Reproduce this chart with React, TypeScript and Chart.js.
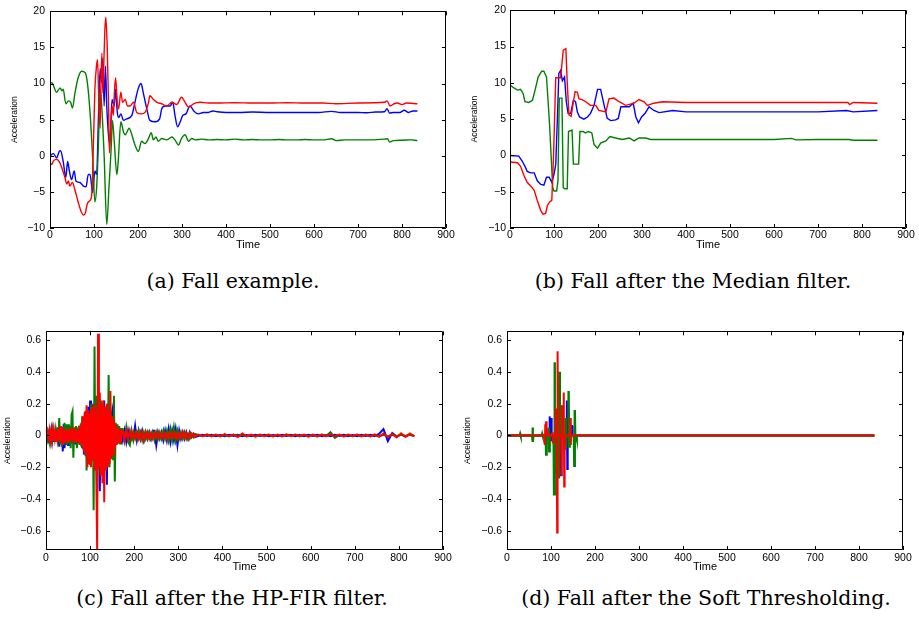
import React, { useEffect, useRef } from "react";
import { Chart, registerables } from "chart.js";
Chart.register(...registerables);

// ---------- tick labels ----------
const xTicks = [0, 100, 200, 300, 400, 500, 600, 700, 800, 900];
const yTicksAB = [-10, -5, 0, 5, 10, 15, 20];
const yTicksCD = [-0.6, -0.4, -0.2, 0, 0.2, 0.4, 0.6];

// ---------- captions ----------
const captions = [
  "(a) Fall example.",
  "(b) Fall after the Median filter.",
  "(c) Fall after the HP-FIR filter.",
  "(d) Fall after the Soft Thresholding.",
];

// ---------- (a) Fall example ----------
const aGreenT = [0,4,15,23,27,30,36,42,47,51,57,64,72,80,85,91,97,102,106,110,114,117,123,129,134,139,142,146,152,155,161,167,171,180,186,193,201,208,216,224,230,235,241,246,254,265,277,284,292,299,307,315,322,330,345,360,380,400,420,440,460,480,500,520,540,560,580,600,620,640,650,670,700,730,760,767,772,780,800,820,835];
const aGreenV = [10.0,10.1,8.8,9.4,9.0,9.2,7.2,7.6,7.4,6.6,8.8,10.8,11.7,11.5,10.1,6.0,-0.3,-6.4,-4.4,1.5,9.2,7.4,0.1,-9.5,-4.4,1.0,4.9,2.0,-2.6,-0.8,4.7,3.3,2.9,3.8,2.9,1.5,0.6,2.0,1.7,2.4,3.2,2.2,2.6,2.0,2.4,2.2,2.6,2.2,1.5,2.4,2.9,2.0,2.4,2.2,2.3,2.2,2.25,2.2,2.3,2.2,2.25,2.2,2.2,2.25,2.2,2.2,2.25,2.2,2.2,2.35,2.1,2.2,2.2,2.2,2.3,2.35,1.9,2.1,2.15,2.2,2.1];
const aBlueT = [0,8,15,21,24,30,36,40,44,49,55,59,68,76,82,87,91,97,102,106,110,114,117,120,123,126,129,133,136,141,146,149,153,156,161,167,174,186,193,201,207,212,220,227,239,249,254,262,273,279,284,290,296,302,309,318,327,337,349,360,370,380,400,430,460,500,540,580,610,640,660,700,720,740,760,766,772,780,795,805,815,825,835];
const aBlueV = [0,0.3,-0.3,0.6,0.7,-0.8,-3.0,-0.8,-2.1,-3.3,-2.1,-3.5,-3.7,-4.2,-4.3,-2.6,-2.6,-5.1,-2.1,-2.6,5.1,12.1,10.1,13.5,6.9,12.4,6.9,2.8,1.5,7.8,6.9,9.2,6.0,5.3,5.8,4.9,5.1,5.6,7.4,9.4,10.0,8.7,6.5,4.9,4.7,5.1,6.5,6.9,6.9,7.4,5.6,4.0,4.7,5.6,5.8,6.9,6.2,5.8,6.0,6.0,6.2,6.1,6.0,6.0,6.05,6.0,6.0,6.0,6.0,6.15,6.0,6.0,5.95,6.05,6.1,6.5,5.9,6.0,6.0,6.3,6.0,6.2,6.2];
const aRedT = [0,4,8,14,21,27,34,38,42,45,51,57,64,70,76,80,85,91,95,99,102,106,108,111,114,116,118,120,123,125,127,130,133,135,138,141,144,146,149,153,156,161,165,171,176,182,190,197,208,216,224,227,235,243,254,265,277,288,299,307,315,326,341,360,380,420,460,500,540,580,620,650,700,760,766,773,782,790,800,810,835];
const aRedV = [-1.0,-1.2,-0.7,-0.5,-0.8,-1.7,-3.0,-3.9,-3.5,-4.2,-3.7,-4.8,-6.4,-7.6,-8.2,-8.0,-6.6,-6.2,-5.3,2.4,9.2,12.6,13.3,7.4,3.8,10.5,14.2,8.7,14.2,17.8,19.2,15.1,7.4,0.4,3.8,6.9,5.6,8.3,10.8,7.4,6.5,8.8,7.4,7.8,6.9,6.9,7.4,6.0,5.8,6.0,7.4,8.3,7.8,7.4,7.2,6.9,7.4,7.1,8.1,7.4,6.7,7.2,7.4,7.3,7.3,7.35,7.3,7.3,7.35,7.3,7.3,7.2,7.3,7.4,7.6,6.9,7.2,7.3,7.1,7.3,7.2];

// ---------- (b) Median filter ----------
const bGreenT = [0,9,17,24,30,34,43,51,57,64,72,77,83,90,97,100,106,109,112,118,121,124,130,133,141,144,150,156,159,166,171,178,186,191,199,206,218,227,240,255,271,282,293,308,320,340,400,500,600,640,650,700,770,780,835];
const bGreenV = [9.7,9.3,9.0,9.1,8.5,7.4,7.3,7.6,9.0,10.8,11.6,11.6,10.8,4.2,-4.4,-4.9,-4.9,-3.5,7.9,7.9,-4.4,-4.6,-4.6,3.3,3.5,-1.2,-1.2,-1.2,3.3,3.3,3.1,3.3,3.1,1.5,1.0,1.7,2.0,2.6,2.4,2.2,2.4,2.0,2.4,2.4,2.2,2.2,2.2,2.2,2.2,2.35,2.15,2.2,2.2,2.1,2.1];
const bBlueT = [0,20,28,34,39,47,55,62,70,77,83,89,95,100,104,108,111,115,119,124,128,132,138,144,149,153,158,168,176,183,191,199,206,214,221,229,240,246,252,271,280,286,292,299,307,316,327,339,370,400,500,600,700,765,780,835];
const bBlueV = [0,-0.1,-0.8,-1.5,-2.2,-2.4,-2.4,-3.5,-4.0,-4.1,-3.0,-3.0,-3.7,-2.6,-1.2,5.6,11.3,11.7,10.3,10.8,7.4,5.8,5.8,7.6,7.4,6.0,5.3,5.0,5.3,5.8,6.9,9.1,9.1,6.9,5.1,4.8,4.9,5.1,6.7,6.7,7.2,5.3,4.5,5.3,5.8,6.7,6.2,5.9,6.2,6.0,6.0,6.0,6.0,6.2,6.0,6.2];
const bRedT = [0,17,24,32,39,47,55,62,70,75,81,85,90,95,99,104,115,121,127,130,134,139,144,148,153,157,164,172,183,195,202,218,225,236,248,263,282,293,305,312,327,346,400,500,600,700,768,772,780,835];
const bRedV = [-0.9,-1.0,-1.5,-2.8,-3.7,-4.2,-4.8,-6.2,-7.6,-8.1,-8.0,-6.9,-6.4,-6.2,0.1,10.7,10.7,14.5,14.7,10.1,5.6,5.4,7.4,8.8,8.7,7.8,7.7,7.4,6.9,6.9,6.2,6.0,7.8,7.9,7.4,6.9,7.2,7.7,7.4,6.9,7.2,7.4,7.3,7.3,7.3,7.3,7.3,7.0,7.3,7.2];

// ---------- (c) HP-FIR filter ----------
const cTimeDense = [0,2,4,6,8,10,12,14,16,18,20,22,24,26,28,30,32,34,36,38,40,42,44,46,48,50,52,54,56,58,60,62,64,66,68,70,72,74,76,78,80,82,84,86,88,90,92,94,96,98,100,102,104,106,108,110,112,114,116,118,120,122,124,126,128,130,132,134,136,138,140,142,144,146,148,150,152,154,156,158,160,162,164,166,168,170];
const cRedDense = [0.01,-0.02,0.02,-0.01,0.03,-0.03,0.02,-0.02,0.03,-0.03,0.02,-0.04,0.03,-0.02,0.04,-0.03,0.06,-0.05,0.04,-0.06,0.05,-0.04,0.03,-0.05,0.04,-0.03,0.03,-0.04,0.05,-0.03,0.04,-0.05,0.05,-0.03,0.04,-0.04,0.03,-0.05,0.06,-0.05,0.08,-0.07,0.12,-0.1,0.15,-0.12,0.19,-0.2,0.16,-0.18,0.14,-0.2,0.18,-0.15,0.2,-0.22,0.17,-0.25,-0.72,0.64,-0.2,0.27,-0.25,0.2,-0.3,0.22,-0.42,0.18,-0.22,0.2,-0.2,0.16,-0.18,0.28,-0.15,0.12,-0.12,0.1,-0.08,0.07,-0.06,0.05,-0.05,0.04,-0.04,0.03];
const cGreenDense = [-0.01,0.02,-0.02,0.01,-0.03,0.04,-0.02,0.03,-0.03,0.02,-0.02,0.03,-0.03,0.05,-0.04,0.11,-0.05,0.06,-0.07,0.05,-0.06,0.08,-0.05,0.07,-0.06,0.07,-0.05,0.06,-0.08,0.13,0.15,-0.14,0.05,-0.04,0.06,-0.08,0.04,0.05,-0.06,0.05,-0.07,0.12,-0.08,0.1,-0.12,0.15,-0.22,0.12,-0.15,0.14,-0.18,0.2,-0.16,0.18,-0.47,0.56,-0.2,0.25,-0.33,0.2,-0.2,0.15,-0.25,0.22,-0.18,0.2,-0.22,0.15,-0.2,0.18,-0.15,0.38,-0.2,0.15,-0.12,0.1,-0.15,0.25,-0.29,0.08,-0.06,0.07,-0.05,0.06,-0.05,0.04];
const cBlueDense = [0.01,-0.01,0.02,-0.02,0.01,-0.02,0.03,-0.03,0.02,-0.04,0.03,-0.03,0.04,-0.04,0.05,-0.07,0.06,-0.05,0.05,-0.1,0.07,-0.08,0.05,-0.06,0.04,-0.06,0.05,-0.04,0.04,-0.05,0.05,-0.04,0.03,-0.05,0.04,-0.03,0.04,-0.05,0.05,-0.06,0.07,-0.08,0.1,-0.12,0.14,-0.13,0.16,-0.15,0.18,-0.16,0.22,-0.18,0.2,-0.16,0.18,-0.2,0.2,-0.22,0.18,-0.2,0.15,-0.35,0.18,-0.2,0.2,-0.22,0.22,-0.2,0.18,-0.31,0.2,-0.18,0.15,-0.14,0.12,0.15,-0.12,0.08,-0.1,0.06,-0.05,0.04,-0.04,0.03,-0.03,0.03];
const cTimeMid = [174,178,182,186,190,194,198,202,206,210,214,218,222,226,230,234,238,242,246,250,254,258,262,266,270,274,278,282,286,290,294,298,302,306,310,314,318,322,326,330,334,338];
const cRedMid = [0.03,-0.03,0.03,-0.02,0.03,-0.02,0.02,-0.02,0.02,-0.02,0.02,-0.03,0.02,-0.02,0.02,-0.02,0.015,-0.02,0.015,-0.015,0.02,-0.015,0.015,-0.015,0.015,-0.02,0.015,-0.015,0.02,-0.015,0.015,-0.02,0.015,-0.015,0.02,-0.015,0.015,-0.02,0.015,-0.01,0.01,-0.01];
const cGreenMid = [0.04,-0.03,0.05,-0.04,-0.06,0.03,-0.03,0.02,-0.02,0.03,-0.02,0.02,-0.03,0.02,-0.02,0.02,-0.02,0.02,-0.03,0.02,-0.02,0.02,-0.02,0.03,-0.02,0.03,-0.03,0.04,-0.03,0.05,-0.03,0.03,-0.02,0.02,-0.02,0.02,-0.02,0.01,-0.02,0.01,-0.01,0.01];
const cBlueMid = [-0.03,0.03,-0.04,0.03,-0.03,0.02,-0.02,0.06,-0.03,0.03,-0.02,0.03,-0.03,0.02,-0.02,0.02,-0.02,0.03,0.03,-0.06,0.02,-0.02,0.02,-0.03,0.03,-0.03,0.04,-0.04,0.03,-0.03,0.04,-0.06,0.03,-0.02,0.02,-0.02,0.02,-0.02,0.02,-0.01,0.01,-0.01];
const cTimeTail = [345,355,365,375,385,395,405,415,425,435,445,455,465,475,485,495,505,515,525,535,545,555,565,575,585,595,605,615,625,635,645,655,665,675,685,695,705,715,725,735,745,755,765,775,785,795,805,815,825,835];
const cRedTail = [0.006,-0.005,0.007,-0.006,0.005,-0.006,0.008,-0.005,0.006,-0.01,0.012,-0.006,0.005,-0.008,0.006,-0.005,0.006,-0.006,0.005,-0.006,0.007,-0.005,0.006,-0.005,0.006,-0.007,0.005,-0.006,0.006,-0.005,0.007,-0.006,0.005,-0.006,0.006,-0.005,0.006,-0.006,0.005,-0.006,0.007,-0.008,0.012,-0.01,0.01,-0.012,0.014,-0.01,0.012,-0.006];
const cGreenTail = [0.004,-0.004,0.004,-0.003,0.004,-0.004,0.003,-0.004,0.004,-0.003,0.004,-0.004,0.003,-0.004,0.004,-0.003,0.004,-0.004,0.003,-0.004,0.004,-0.003,0.004,-0.004,0.003,-0.004,0.004,-0.006,0.006,-0.004,0.02,-0.015,0.004,-0.004,0.003,-0.004,0.004,-0.003,0.004,-0.004,0.003,-0.004,0.004,-0.006,0.005,-0.004,0.004,-0.003,0.004,-0.003];
const cBlueTail = [-0.004,0.004,-0.003,0.004,-0.004,0.003,-0.004,0.004,-0.003,0.004,-0.004,0.003,-0.004,0.004,-0.003,0.004,-0.004,0.003,-0.004,0.004,-0.003,0.004,-0.004,0.003,-0.004,0.004,-0.003,0.004,-0.004,0.003,-0.004,0.004,-0.003,0.004,-0.004,0.003,-0.004,0.004,-0.003,0.004,-0.004,0.01,0.04,-0.035,0.015,-0.006,0.005,-0.004,0.006,-0.004];

// ---------- (d) Soft Thresholding ----------
const dGreenT = [0,29,30,31,57,58,59,60,79,80,81,88,89,90,94,95,96,97,106,107,108,109,110,111,112,117,118,119,120,121,122,123,132,133,134,135,139,140,141,142,143,152,153,154,155,157,158,159,835];
const dGreenV = [0,0,0.01,0,0,0.05,-0.04,0,0,0.01,0,0,-0.12,0,0,0.05,-0.1,0,0,-0.37,0.46,0,0.02,-0.24,0,0,-0.27,0.40,0,0.1,0.19,0,0,0.11,-0.09,0,0,0.28,-0.07,0.1,0,0,-0.19,0.16,0,0,-0.02,0,0];
const dBlueT = [0,96,97,98,99,100,101,102,121,122,123,124,134,135,136,137,138,146,147,148,149,154,155,156,835];
const dBlueV = [0,0,0.12,-0.02,0,-0.03,0.11,0,0,0.05,-0.25,0,0,0.05,0.22,-0.21,0,0,0.06,0.06,0,0,-0.03,0,0];
const dRedT = [0,85,86,87,88,89,90,91,92,93,102,103,104,105,110,111,112,113,114,115,116,123,124,125,126,128,129,130,131,143,144,145,146,835];
const dRedV = [0,0,-0.06,0.07,0,0.09,0,0.03,0,0,0,0.02,-0.05,0,0,0.17,-0.05,0,-0.61,0.53,0,0,-0.25,0.19,0,0,0.27,-0.32,0,0,0.11,-0.06,0,0];

// ---------- helpers ----------
const RED = "#ff0000";
const GREEN = "#008000";
const BLUE = "#0000ff";

function zip(t: number[], v: number[]) {
  return t.map((x, i) => ({ x, y: v[i] }));
}
function fmt(v: number) {
  const s = String(Number(v.toFixed(2)));
  return s.replace("-", "\u2212");
}

const boxPlugin = {
  id: "matlabBox",
  afterDraw(chart: any) {
    const { ctx, chartArea } = chart;
    const { left, right, top, bottom } = chartArea;
    const xs = chart.scales.x;
    const ys = chart.scales.y;
    const tl = 4;
    ctx.save();
    ctx.strokeStyle = "#000";
    ctx.lineWidth = 1;
    ctx.beginPath();
    ctx.rect(Math.round(left) + 0.5, Math.round(top) + 0.5, Math.round(right - left) - 1, Math.round(bottom - top) - 1);
    xs.ticks.forEach((t: any) => {
      const px = Math.round(xs.getPixelForValue(t.value)) + 0.5;
      ctx.moveTo(px, bottom);
      ctx.lineTo(px, bottom - tl);
      ctx.moveTo(px, top);
      ctx.lineTo(px, top + tl);
    });
    ys.ticks.forEach((t: any) => {
      const py = Math.round(ys.getPixelForValue(t.value)) + 0.5;
      ctx.moveTo(left, py);
      ctx.lineTo(left + tl, py);
      ctx.moveTo(right, py);
      ctx.lineTo(right - tl, py);
    });
    ctx.stroke();
    ctx.restore();
  },
};

type PanelCfg = {
  left: number;
  top: number;
  width: number;
  height: number;
  padTop: number;
  padRight: number;
  yWidth: number;
  xHeight: number;
  yMin: number;
  yMax: number;
  yTicks: number[];
  datasets: any[];
  xLabelPad: number;
  yLabelPad: number;
  xTitleBottom: number;
  yTitleOffset: number;
};

const tickFont = { family: "'Liberation Sans', Arial, sans-serif", size: 10.5 };

function Panel({ cfg }: { cfg: PanelCfg }) {
  const ref = useRef<HTMLCanvasElement | null>(null);
  useEffect(() => {
    if (!ref.current) return;
    const chart = new Chart(ref.current, {
      type: "line",
      data: { datasets: cfg.datasets },
      options: {
        animation: false,
        responsive: false,
        devicePixelRatio: 1,
        events: [],
        layout: {
          autoPadding: false,
          padding: { left: 0, top: cfg.padTop, right: cfg.padRight, bottom: 0 },
        },
        plugins: { legend: { display: false }, tooltip: { enabled: false } },
        elements: { point: { radius: 0 } },
        scales: {
          x: {
            type: "linear",
            min: 0,
            max: 900,
            afterBuildTicks: (s: any) => {
              s.ticks = xTicks.map((v) => ({ value: v }));
            },
            afterFit: (s: any) => {
              s.height = cfg.xHeight;
            },
            grid: { display: false, drawTicks: false },
            border: { display: false },
            ticks: {
              autoSkip: false,
              maxRotation: 0,
              padding: cfg.xLabelPad,
              color: "#000",
              font: tickFont,
              callback: (v: any) => fmt(Number(v)),
            },
            title: {
              display: true,
              text: "Time",
              color: "#000",
              font: { family: "'Liberation Sans', Arial, sans-serif", size: 11 },
              padding: { top: 0, bottom: cfg.xTitleBottom },
            },
          },
          y: {
            type: "linear",
            min: cfg.yMin,
            max: cfg.yMax,
            afterBuildTicks: (s: any) => {
              s.ticks = cfg.yTicks.map((v) => ({ value: v }));
            },
            afterFit: (s: any) => {
              s.width = cfg.yWidth;
            },
            grid: { display: false, drawTicks: false },
            border: { display: false },
            ticks: {
              autoSkip: false,
              padding: cfg.yLabelPad,
              color: "#000",
              font: tickFont,
              callback: (v: any) => fmt(Number(v)),
            },
            title: {
              display: true,
              text: "Acceleration",
              color: "#000",
              font: { family: "'Liberation Sans', Arial, sans-serif", size: 8.5 },
              padding: { top: cfg.yTitleOffset, bottom: 0 },
            },
          },
        },
      } as any,
      plugins: [boxPlugin],
    });
    return () => chart.destroy();
  }, [cfg]);
  return (
    <canvas
      ref={ref}
      width={cfg.width}
      height={cfg.height}
      style={{ position: "absolute", left: cfg.left, top: cfg.top, width: cfg.width, height: cfg.height }}
    />
  );
}

function ds(data: any[], color: string, width: number, mode?: string) {
  return {
    data,
    borderColor: color,
    backgroundColor: color,
    borderWidth: width,
    pointRadius: 0,
    fill: false,
    tension: 0,
    cubicInterpolationMode: mode || "default",
  };
}

const panelA: PanelCfg = {
  left: 0, top: 0, width: 460, height: 262, padTop: 7, padRight: 14, yWidth: 50, xHeight: 34,
  yMin: -10, yMax: 20, yTicks: yTicksAB, xLabelPad: 1, yLabelPad: 5, xTitleBottom: 10, yTitleOffset: 10,
  datasets: [
    ds(zip(aRedT, aRedV), RED, 1.4, "monotone"),
    ds(zip(aGreenT, aGreenV), GREEN, 1.4, "monotone"),
    ds(zip(aBlueT, aBlueV), BLUE, 1.4, "monotone"),
  ],
};
const panelB: PanelCfg = {
  left: 460, top: 0, width: 459, height: 262, padTop: 7, padRight: 13, yWidth: 50, xHeight: 34,
  yMin: -10, yMax: 20, yTicks: yTicksAB, xLabelPad: 1, yLabelPad: 4, xTitleBottom: 10, yTitleOffset: 10,
  datasets: [
    ds(zip(bRedT, bRedV), RED, 1.4),
    ds(zip(bGreenT, bGreenV), GREEN, 1.4),
    ds(zip(bBlueT, bBlueV), BLUE, 1.4),
  ],
};
const cRed = [...zip(cTimeDense, cRedDense), ...zip(cTimeMid, cRedMid), ...zip(cTimeTail, cRedTail)];
const cGreen = [...zip(cTimeDense, cGreenDense), ...zip(cTimeMid, cGreenMid), ...zip(cTimeTail, cGreenTail)];
const cBlue = [...zip(cTimeDense, cBlueDense), ...zip(cTimeMid, cBlueMid), ...zip(cTimeTail, cBlueTail)];
const panelC: PanelCfg = {
  left: 0, top: 320, width: 460, height: 262, padTop: 9, padRight: 17, yWidth: 46, xHeight: 32,
  yMin: -0.72, yMax: 0.655, yTicks: yTicksCD, xLabelPad: 2, yLabelPad: 5, xTitleBottom: 8, yTitleOffset: 3,
  datasets: [ds(cRed, RED, 2), ds(cGreen, GREEN, 2), ds(cBlue, BLUE, 2)],
};
const panelD: PanelCfg = {
  left: 460, top: 320, width: 459, height: 262, padTop: 9, padRight: 16, yWidth: 47, xHeight: 32,
  yMin: -0.72, yMax: 0.655, yTicks: yTicksCD, xLabelPad: 2, yLabelPad: 5, xTitleBottom: 8, yTitleOffset: 3,
  datasets: [
    ds(zip(dRedT, dRedV), RED, 2),
    ds(zip(dGreenT, dGreenV), GREEN, 2.4),
    ds(zip(dBlueT, dBlueV), BLUE, 2),
  ],
};

const capPos = [
  { cx: 233, top: 271 },
  { cx: 693, top: 271 },
  { cx: 232, top: 588 },
  { cx: 706, top: 588 },
];

export default function App() {
  return (
    <div style={{ position: "fixed", left: 0, top: 0, width: 919, height: 619, background: "#fff", overflow: "hidden" }}>
      <Panel cfg={panelA} />
      <Panel cfg={panelB} />
      <Panel cfg={panelC} />
      <Panel cfg={panelD} />
      {captions.map((c, i) => (
        <div
          key={i}
          style={{
            position: "absolute",
            left: capPos[i].cx,
            top: capPos[i].top,
            transform: "translateX(-50%)",
            whiteSpace: "nowrap",
            fontFamily: "'DejaVu Serif', serif",
            fontSize: 20.5,
            lineHeight: "21px",
            color: "#000",
          }}
        >
          {c}
        </div>
      ))}
    </div>
  );
}
